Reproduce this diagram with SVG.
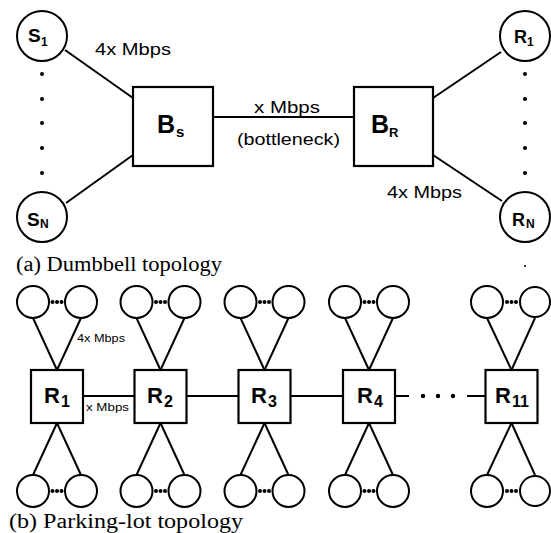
<svg xmlns="http://www.w3.org/2000/svg" width="551" height="533" viewBox="0 0 551 533">
<style>
.ln{stroke:#000;stroke-width:2;fill:none}
.nd{stroke:#000;stroke-width:2.2;fill:#fff}
.sc{stroke:#000;stroke-width:2;fill:#fff}
.lb{font-family:"Liberation Sans",Arial,sans-serif;font-weight:bold;fill:#000}
.tx{font-family:"Liberation Sans",Arial,sans-serif;fill:#000}
.cap{font-family:"Liberation Serif","Times New Roman",serif;fill:#000;font-size:20px}
.dt{fill:#000}
</style>
<rect width="551" height="533" fill="#fff"/>
<g id="connectors">
<line class="ln" x1="65" y1="50" x2="133" y2="98"/>
<line class="ln" x1="66" y1="203" x2="133" y2="155"/>
<line class="ln" x1="213" y1="117" x2="354" y2="117"/>
<line class="ln" x1="433" y1="98" x2="501" y2="52"/>
<line class="ln" x1="433" y1="155" x2="502" y2="201"/>
<line class="ln" x1="83" y1="396" x2="134" y2="396"/>
<line class="ln" x1="187" y1="396" x2="238" y2="396"/>
<line class="ln" x1="291" y1="396" x2="343" y2="396"/>
<line class="ln" x1="395" y1="396" x2="409" y2="396"/>
<line class="ln" x1="467" y1="396" x2="486" y2="396"/>
<circle class="dt" cx="423" cy="396" r="2.2"/>
<circle class="dt" cx="438" cy="396" r="2.2"/>
<circle class="dt" cx="453" cy="396" r="2.2"/>
<g id="dumbbell-dots">
<circle class="dt" cx="42" cy="74" r="2"/><circle class="dt" cx="42" cy="99" r="2"/><circle class="dt" cx="42" cy="123" r="2"/><circle class="dt" cx="42" cy="148" r="2"/><circle class="dt" cx="42" cy="173" r="2"/>
<circle class="dt" cx="525" cy="74" r="2"/><circle class="dt" cx="525" cy="99" r="2"/><circle class="dt" cx="525" cy="123" r="2"/><circle class="dt" cx="525" cy="148" r="2"/><circle class="dt" cx="525" cy="173" r="2"/>
</g>
</g>
<g id="labels">
<text class="tx" x="95" y="55" font-size="16" textLength="76" lengthAdjust="spacingAndGlyphs">4x Mbps</text>
<text class="tx" x="254" y="113" font-size="16" textLength="66" lengthAdjust="spacingAndGlyphs">x Mbps</text>
<text class="tx" x="237" y="145" font-size="16" textLength="103" lengthAdjust="spacingAndGlyphs">(bottleneck)</text>
<text class="tx" x="387" y="198" font-size="16" textLength="75" lengthAdjust="spacingAndGlyphs">4x Mbps</text>
<text class="tx" x="77" y="342" font-size="11" textLength="48" lengthAdjust="spacingAndGlyphs">4x Mbps</text>
<text class="tx" x="86" y="411" font-size="11" textLength="43" lengthAdjust="spacingAndGlyphs">x Mbps</text>
<text class="cap" x="16" y="271" textLength="206" lengthAdjust="spacingAndGlyphs">(a) Dumbbell topology</text>
<text class="cap" x="9" y="528" textLength="234" lengthAdjust="spacingAndGlyphs">(b) Parking-lot topology</text>
<circle class="dt" cx="525" cy="266" r="1"/>
</g>
<g id="S1"><circle class="sc" cx="42" cy="36" r="25"/><text class="lb" x="28" y="42" font-size="19">S</text><text class="lb" x="41" y="46" font-size="12">1</text></g>
<g id="SN"><circle class="sc" cx="42" cy="217" r="25"/><text class="lb" x="27" y="226" font-size="19">S</text><text class="lb" x="40" y="228" font-size="12">N</text></g>
<g id="R1top"><circle class="sc" cx="525" cy="36" r="25"/><text class="lb" x="514" y="43" font-size="18">R</text><text class="lb" x="527" y="46" font-size="12">1</text></g>
<g id="RN"><circle class="sc" cx="525" cy="217" r="25"/><text class="lb" x="512" y="226" font-size="18">R</text><text class="lb" x="526" y="228" font-size="12">N</text></g>
<g id="Bs"><rect class="nd" x="133" y="87" width="80" height="79"/><text class="lb" x="157" y="133" font-size="25">B</text><text class="lb" x="176" y="137" font-size="15">s</text></g>
<g id="BR"><rect class="nd" x="354" y="87" width="79" height="79"/><text class="lb" x="371" y="133" font-size="25">B</text><text class="lb" x="389" y="137" font-size="13">R</text></g>
<g id="PL1">
<line class="ln" x1="33" y1="318" x2="57" y2="370"/><line class="ln" x1="81" y1="318" x2="57" y2="370"/>
<line class="ln" x1="57" y1="423" x2="33" y2="475"/><line class="ln" x1="57" y1="423" x2="81" y2="475"/>
<circle class="sc" cx="33" cy="302" r="16"/><circle class="sc" cx="81" cy="302" r="16"/>
<circle class="sc" cx="33" cy="491" r="16"/><circle class="sc" cx="81" cy="491" r="16"/>
<circle class="dt" cx="52.5" cy="302" r="2"/><circle class="dt" cx="57" cy="302" r="2"/><circle class="dt" cx="61.5" cy="302" r="2"/>
<circle class="dt" cx="52.5" cy="491" r="2"/><circle class="dt" cx="57" cy="491" r="2"/><circle class="dt" cx="61.5" cy="491" r="2"/>
<rect class="nd" x="31" y="370" width="52" height="53"/><text class="lb" x="44" y="403" font-size="22">R</text><text class="lb" x="61" y="407" font-size="16">1</text>
</g>
<g id="PL2">
<line class="ln" x1="136.5" y1="318" x2="160.5" y2="370"/><line class="ln" x1="184.5" y1="318" x2="160.5" y2="370"/>
<line class="ln" x1="160.5" y1="423" x2="136.5" y2="475"/><line class="ln" x1="160.5" y1="423" x2="184.5" y2="475"/>
<circle class="sc" cx="136.5" cy="302" r="16"/><circle class="sc" cx="184.5" cy="302" r="16"/>
<circle class="sc" cx="136.5" cy="491" r="16"/><circle class="sc" cx="184.5" cy="491" r="16"/>
<circle class="dt" cx="156" cy="302" r="2"/><circle class="dt" cx="160.5" cy="302" r="2"/><circle class="dt" cx="165" cy="302" r="2"/>
<circle class="dt" cx="156" cy="491" r="2"/><circle class="dt" cx="160.5" cy="491" r="2"/><circle class="dt" cx="165" cy="491" r="2"/>
<rect class="nd" x="134.5" y="370" width="52" height="53"/><text class="lb" x="147" y="403" font-size="22">R</text><text class="lb" x="164" y="407" font-size="16">2</text>
</g>
<g id="PL3">
<line class="ln" x1="240.5" y1="318" x2="264.5" y2="370"/><line class="ln" x1="288.5" y1="318" x2="264.5" y2="370"/>
<line class="ln" x1="264.5" y1="423" x2="240.5" y2="475"/><line class="ln" x1="264.5" y1="423" x2="288.5" y2="475"/>
<circle class="sc" cx="240.5" cy="302" r="16"/><circle class="sc" cx="288.5" cy="302" r="16"/>
<circle class="sc" cx="240.5" cy="491" r="16"/><circle class="sc" cx="288.5" cy="491" r="16"/>
<circle class="dt" cx="260" cy="302" r="2"/><circle class="dt" cx="264.5" cy="302" r="2"/><circle class="dt" cx="269" cy="302" r="2"/>
<circle class="dt" cx="260" cy="491" r="2"/><circle class="dt" cx="264.5" cy="491" r="2"/><circle class="dt" cx="269" cy="491" r="2"/>
<rect class="nd" x="238.5" y="370" width="52" height="53"/><text class="lb" x="251" y="403" font-size="22">R</text><text class="lb" x="268" y="407" font-size="16">3</text>
</g>
<g id="PL4">
<line class="ln" x1="345" y1="318" x2="369" y2="370"/><line class="ln" x1="393" y1="318" x2="369" y2="370"/>
<line class="ln" x1="369" y1="423" x2="345" y2="475"/><line class="ln" x1="369" y1="423" x2="393" y2="475"/>
<circle class="sc" cx="345" cy="302" r="16"/><circle class="sc" cx="393" cy="302" r="16"/>
<circle class="sc" cx="345" cy="491" r="16"/><circle class="sc" cx="393" cy="491" r="16"/>
<circle class="dt" cx="364.5" cy="302" r="2"/><circle class="dt" cx="369" cy="302" r="2"/><circle class="dt" cx="373.5" cy="302" r="2"/>
<circle class="dt" cx="364.5" cy="491" r="2"/><circle class="dt" cx="369" cy="491" r="2"/><circle class="dt" cx="373.5" cy="491" r="2"/>
<rect class="nd" x="343" y="370" width="52" height="53"/><text class="lb" x="357" y="403" font-size="22">R</text><text class="lb" x="374" y="407" font-size="16">4</text>
</g>
<g id="PL11">
<line class="ln" x1="487" y1="318" x2="511.5" y2="370"/><line class="ln" x1="535" y1="318" x2="511.5" y2="370"/>
<line class="ln" x1="511.5" y1="423" x2="487" y2="475"/><line class="ln" x1="511.5" y1="423" x2="535" y2="475"/>
<circle class="sc" cx="487" cy="302" r="16"/><circle class="sc" cx="535" cy="302" r="15"/>
<circle class="sc" cx="487" cy="491" r="16"/><circle class="sc" cx="535" cy="491" r="15"/>
<circle class="dt" cx="507" cy="302" r="2"/><circle class="dt" cx="511.5" cy="302" r="2"/><circle class="dt" cx="516" cy="302" r="2"/>
<circle class="dt" cx="507" cy="491" r="2"/><circle class="dt" cx="511.5" cy="491" r="2"/><circle class="dt" cx="516" cy="491" r="2"/>
<rect class="nd" x="485.5" y="370" width="52" height="53"/><text class="lb" x="495" y="403" font-size="22">R</text><text class="lb" x="512" y="407" font-size="16">11</text>
</g>
</svg>
